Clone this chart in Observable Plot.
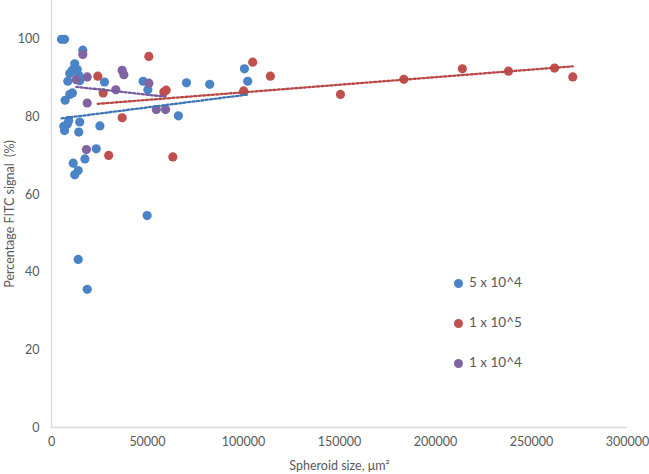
<!DOCTYPE html>
<html>
<head>
<meta charset="utf-8">
<script src="https://cdn.jsdelivr.net/npm/d3@7"></script>
<script src="https://cdn.jsdelivr.net/npm/@observablehq/plot@0.6"></script>
<style>
  html, body { margin: 0; padding: 0; background: #fff; }
  #wrap { position: relative; width: 649px; height: 474px; font-family: Lato, "Open Sans", sans-serif; }
  #legend { position: absolute; left: 454px; top: 274px; font-size: 13.5px; color: #595959; }
  #legend div { height: 40px; display: flex; align-items: flex-start; }
  #legend span.sw { display: inline-block; width: 9px; height: 9px; border-radius: 50%; margin-right: 6px; margin-top: 5px; }
</style>
</head>
<body>
<div id="wrap"><div id="chart"></div><div id="legend"></div></div>
<script>
const seriesNames = ["5 x 10^4", "1 x 10^5", "1 x 10^4"];
const seriesColors = ["#4a84c6", "#c0504d", "#8064a2"];
const trendColors = ["#3f74b4", "#b84845", "#765aa0"];

// 5 x 10^4 (blue)
const blueX = [5200, 6800, 16300, 12100, 10800, 13400, 9500, 14200, 8500, 14700, 27600, 10900, 9500, 7100, 47700, 50200, 70300, 82400, 100500, 102200, 66100, 9000, 8200, 6400, 6800, 14700, 14200, 25200, 23300, 17400, 11300, 13900, 12100, 49800, 13900, 18600];
const blueY = [100, 100, 97.2, 93.7, 92.0, 92.2, 91.2, 90.7, 89.2, 89.3, 89.0, 86.2, 85.8, 84.3, 89.2, 87.0, 88.8, 88.4, 92.4, 89.2, 80.3, 79.1, 78.1, 77.6, 76.5, 78.7, 76.1, 77.7, 71.8, 69.2, 68.1, 66.2, 65.1, 54.6, 43.3, 35.6];

// 1 x 10^5 (red)
const redX = [24100, 26900, 50700, 58500, 59700, 36800, 29800, 63200, 104800, 100100, 114000, 150500, 183500, 214000, 238000, 262000, 271500];
const redY = [90.5, 86.2, 95.6, 86.4, 86.9, 79.8, 70.1, 69.7, 94.1, 86.7, 90.5, 85.8, 89.7, 92.4, 91.8, 92.6, 90.3];

// 1 x 10^4 (purple)
const purpleX = [16300, 12900, 18600, 36800, 37700, 33500, 18600, 50700, 54600, 59400, 18200];
const purpleY = [96.1, 89.6, 90.3, 92.0, 90.9, 87.0, 83.6, 88.7, 81.9, 81.9, 71.6];

const xTicks = [0, 50000, 100000, 150000, 200000, 250000, 300000];
const yTicks = [0, 20, 40, 60, 80, 100];

const series = [
  {name: seriesNames[0], xs: blueX, ys: blueY},
  {name: seriesNames[1], xs: redX, ys: redY},
  {name: seriesNames[2], xs: purpleX, ys: purpleY}
];
const rows = series.map(s => s.xs.map((x, i) => ({x, y: s.ys[i], series: s.name})));

const marks = [
  Plot.ruleX([0], {stroke: "#d9d9d9", strokeWidth: 1.3}),
  Plot.ruleY([0], {stroke: "#d9d9d9", strokeWidth: 1.3})
];
rows.forEach((r, i) => {
  marks.push(Plot.dot(r, {x: "x", y: "y", r: 4.6, fill: seriesColors[i], stroke: "none"}));
});
rows.forEach((r, i) => {
  marks.push(Plot.linearRegressionY(r, {x: "x", y: "y", ci: 0, stroke: trendColors[i], strokeWidth: 2.3, strokeDasharray: "2.2,2.2"}));
});

const chart = Plot.plot({
  width: 649,
  height: 474,
  marginLeft: 51,
  marginRight: 22,
  marginTop: 0,
  marginBottom: 47,
  style: {fontFamily: "Lato, 'Open Sans', sans-serif", fontSize: "12.5px", color: "#595959", background: "#fff"},
  x: {domain: [0, 300000], ticks: xTicks, tickFormat: d => String(d), tickSize: 0, tickPadding: 10, label: "Spheroid size, μm²", labelAnchor: "center", labelOffset: 42, labelArrow: "none"},
  y: {domain: [0, 110], ticks: yTicks, tickFormat: d => String(d), tickSize: 0, tickPadding: 12, label: "Percentage FITC signal  (%)", labelAnchor: "center", labelOffset: 46, labelArrow: "none"},
  marks
});
document.getElementById("chart").appendChild(chart);

const legend = document.getElementById("legend");
seriesNames.forEach((n, i) => {
  const d = document.createElement("div");
  const sw = document.createElement("span");
  sw.className = "sw";
  sw.style.background = seriesColors[i];
  d.appendChild(sw);
  d.appendChild(document.createTextNode(n));
  legend.appendChild(d);
});
</script>
</body>
</html>
